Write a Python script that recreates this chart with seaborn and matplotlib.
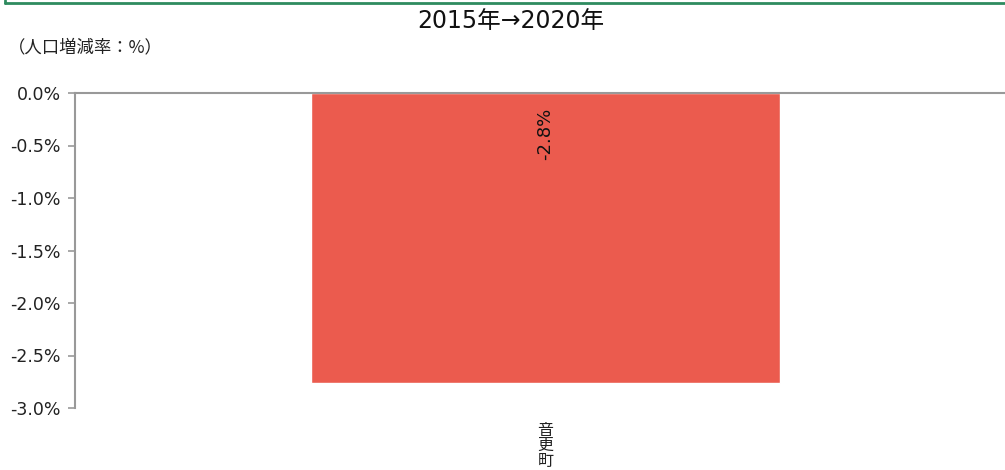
import matplotlib
matplotlib.use("Agg")
import matplotlib.pyplot as plt
import pandas as pd
import seaborn as sns
from matplotlib.lines import Line2D
from matplotlib.ticker import FuncFormatter

towns = ["音更町"]
rates = [-2.76]
labels = ["-2.8%"]

df = pd.DataFrame({"town": towns, "rate": rates})

sns.set_theme(style="white")
plt.rcParams["font.family"] = ["DejaVu Sans", "Noto Sans CJK JP"]

fig = plt.figure(figsize=(10.05, 4.70), dpi=100)
ax = fig.add_axes([75 / 1005, 1 - 408 / 470, 941 / 1005, 315 / 470])

sns.barplot(x="town", y="rate", data=df, color="#EB5B4E", saturation=1,
            width=0.498, ax=ax)

ax.set_ylim(-3.0, 0.0)
ax.set_xlim(-0.5, 0.5)
ax.set_yticks([0.0, -0.5, -1.0, -1.5, -2.0, -2.5, -3.0])
ax.yaxis.set_major_formatter(FuncFormatter(lambda v, p: f"{v:.1f}%"))
ax.tick_params(axis="y", left=True, length=5, width=1.2, color="#999999",
               labelsize=12.5, labelcolor="#222222", pad=5)
ax.set_xticks([])
ax.set_xlabel("")
ax.set_ylabel("")

for side in ["right", "bottom"]:
    ax.spines[side].set_visible(False)
ax.spines["left"].set_color("#999999")
ax.spines["left"].set_linewidth(1.5)
ax.spines["top"].set_color("#999999")
ax.spines["top"].set_linewidth(1.5)

# value label
for i, (r, lab) in enumerate(zip(rates, labels)):
    ax.text(i, -0.14, lab, rotation=90, ha="center", va="top",
            fontsize=13, color="#111111")

# category label below the plot, stacked vertically
for i, t in enumerate(towns):
    ax.text(i, -3.13, "\n".join(t), ha="center", va="top", fontsize=11.5,
            linespacing=0.9, color="#222222",
            family=["Noto Sans CJK JP", "DejaVu Sans"])

fig.text(511 / 1005, 1 - 21 / 470, "2015年→2020年", ha="center", va="center",
         fontsize=17, color="#111111", family=["DejaVu Sans", "Noto Sans CJK JP"])
fig.text(8 / 1005, 1 - 47 / 470, "（人口増減率：%）", ha="left", va="center",
         fontsize=12.5, color="#222222", family=["Noto Sans CJK JP", "DejaVu Sans"])

# green frame edge at the top
green = "#2E8B5F"
fig.add_artist(Line2D([5 / 1005, 1.0], [1 - 3 / 470, 1 - 3 / 470],
                      transform=fig.transFigure, color=green, lw=2))
fig.add_artist(Line2D([5 / 1005, 5 / 1005], [1.0, 1 - 3 / 470],
                      transform=fig.transFigure, color=green, lw=2))

fig.savefig("out.png", dpi=100)
